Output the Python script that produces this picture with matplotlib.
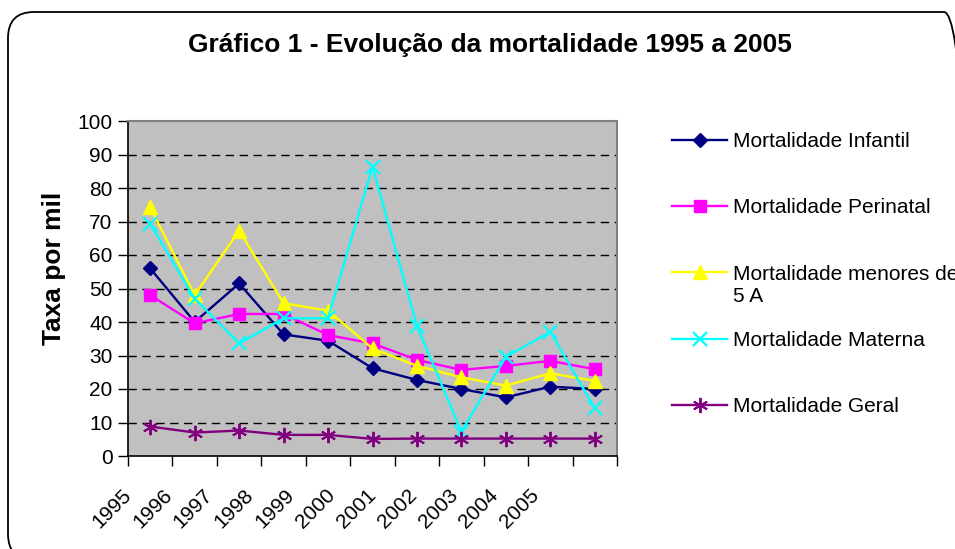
import types
import matplotlib
matplotlib.use("Agg")
import matplotlib.pyplot as plt
from matplotlib.patches import FancyBboxPatch
from matplotlib.ticker import FixedLocator, MultipleLocator
from matplotlib.transforms import Bbox
import numpy as np

plt.rcParams['font.family'] = ['Liberation Sans', 'DejaVu Sans']

years = ['1995', '1996', '1997', '1998', '1999', '2000', '2001', '2002', '2003', '2004', '2005']
infantil = [56, 40, 51.5, 36.3, 34.4, 26.2, 22.7, 20, 17.5, 20.7, 20]
perinatal = [48, 39.6, 42.4, 42.4, 36.1, 33.6, 28.7, 25.7, 26.9, 28.4, 25.9]
menores5 = [74.2, 48, 67.3, 45.6, 43.4, 32.1, 26.9, 23.5, 21, 24.7, 22.4]
materna = [69.3, 47, 33.6, 41.1, 41.1, 86.4, 38.8, 7.3, 29.6, 37.1, 14.2]
geral = [8.8, 7, 7.6, 6.3, 6.3, 5.1, 5.2, 5.2, 5.2, 5.2, 5.2]

labels = ['Mortalidade Infantil', 'Mortalidade Perinatal', 'Mortalidade menores de\n5 A',
          'Mortalidade Materna', 'Mortalidade Geral']

W, H = 955, 549
fig = plt.figure(figsize=(W / 100, H / 100), dpi=100)
fig.patch.set_facecolor('white')

# rounded outer border (inches)
border = FancyBboxPatch((0.08, -0.11), 9.62, 5.48,
                        boxstyle="round,pad=0,rounding_size=0.26",
                        transform=fig.dpi_scale_trans, facecolor='none',
                        edgecolor='black', linewidth=1.3)
fig.patches.append(border)

ax = fig.add_axes([128 / W, (H - 456) / H, 489 / W, 335 / H])
ax.set_facecolor('#C0C0C0')
x = np.arange(len(years))

ax.plot(x, infantil, color='#000080', lw=1.7, marker='D', ms=7, label=labels[0], zorder=3)
ax.plot(x, perinatal, color='#FF00FF', lw=1.7, marker='s', ms=8, label=labels[1], zorder=3)
ax.plot(x, menores5, color='#FFFF00', lw=1.7, marker='^', ms=10, label=labels[2], zorder=3)
ax.plot(x, materna, color='#00FFFF', lw=1.7, marker='x', ms=10, mew=1.6, label=labels[3], zorder=3)
ax.plot(x, geral, color='#800080', lw=1.7, marker=(6, 2, 0), ms=11, mew=1.4, label=labels[4], zorder=3)

ax.yaxis.set_major_locator(MultipleLocator(10))
for v in range(10, 100, 10):
    ax.axhline(v, color='black', lw=1.0, ls=(0, (6, 4)), zorder=1)

ax.tick_params(axis='y', direction='out', length=7, width=1, labelsize=15, pad=4, colors='black')
# x tick marks at category boundaries
ax.xaxis.set_minor_locator(FixedLocator(np.arange(-0.5, len(years), 1.0)))
ax.tick_params(axis='x', which='minor', direction='out', length=7, width=1)
label_pos = -0.41 + 0.918 * x
ax.set_xticks(label_pos)
ax.set_xticklabels(years, rotation=45, ha='right', va='baseline', rotation_mode='anchor')
ax.tick_params(axis='x', which='major', length=0, labelsize=15, pad=29)
ax.set_xlim(-0.5, len(years) - 0.5)
ax.set_ylim(0, 100)

for s in ['top', 'right']:
    ax.spines[s].set_color('#808080')
    ax.spines[s].set_linewidth(1.5)
for s in ['left', 'bottom']:
    ax.spines[s].set_color('black')
    ax.spines[s].set_linewidth(1.2)

ax.set_ylabel('Taxa por mil', fontsize=19, fontweight='bold')
ax.yaxis.set_label_coords((66 - 128) / 489, (456 - 268) / 335)

fig.text(490 / W, 1 - 45 / H, 'Gráfico 1 - Evolução da mortalidade 1995 a 2005',
         ha='center', va='center', fontsize=19, fontweight='bold')

leg = fig.legend(loc='upper left', bbox_to_anchor=(672 / W, 1 - 132 / H), frameon=False,
                 fontsize=15, handlelength=2.65, handletextpad=0.3, labelspacing=2.27,
                 borderaxespad=0, borderpad=0)


# Excel-like: multi-line legend label keeps the handle on its first line and
# lets the second line hang below without pushing the next entry down.
def _first_line_bbox(self, renderer):
    _, h_, d_ = renderer.get_text_width_height_descent("lp", self._text._fontproperties, ismath=False)
    bbox, info, yd = self._text._get_layout(renderer)
    y0 = info[0][3]
    self._baseline_transform.clear()
    self._baseline_transform.translate(0, -y0)
    return Bbox.from_bounds(0, -d_, bbox.width, h_)


for col in leg._legend_handle_box.get_children():
    for row in col.get_children():
        ch = row.get_children()
        if len(ch) == 2 and hasattr(ch[1], '_text') and '\n' in ch[1]._text.get_text():
            ch[1].get_bbox = types.MethodType(_first_line_bbox, ch[1])

fig.savefig('out.png', dpi=100)
